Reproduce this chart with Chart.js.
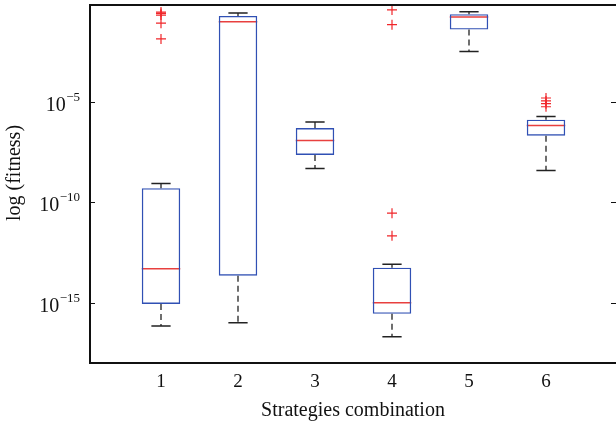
<!DOCTYPE html>
<html lang="en">
<head>
    <meta charset="UTF-8">
    <title>log (fitness) vs strategies combination</title>
    <script src="https://cdn.jsdelivr.net/npm/chart.js"></script>
    <style>
        body { margin: 0; background: #fff; }
    </style>
</head>
<body>
    <canvas id="boxChart" width="616" height="428"></canvas>

    <script>
        // box plot data, one entry per strategies combination
        const groups = [1, 2, 3, 4, 5, 6];
        const whiskerHigh = [8.3e-10, 0.25, 9.5e-7, 8.1e-14, 0.29, 1.8e-6];
        const upperQuartile = [4.9e-10, 0.18, 4.8e-7, 5.5e-14, 0.22, 1.26e-6];
        const medians = [4.8e-14, 0.093, 1.15e-7, 1.0e-15, 0.16, 6.5e-7];
        const lowerQuartile = [8.7e-16, 2.2e-14, 2.2e-8, 2.8e-16, 0.038, 2.0e-7];
        const whiskerLow = [6.9e-17, 1.0e-16, 4.7e-9, 2.0e-17, 0.0031, 3.7e-9];
        const outliers = [
            [0.28, 0.24, 0.20, 0.079, 0.013],
            [],
            [],
            [0.36, 0.066, 2.8e-11, 2.1e-12],
            [],
            [1.5e-5, 1.07e-5, 7.8e-6, 5.5e-6]
        ];
        const yTicks = [1e-15, 1e-10, 1e-5];
        const yTickExponents = ['\u221215', '\u221210', '\u22125'];

        const serif = "'Liberation Serif', 'DejaVu Serif', serif";
        Chart.defaults.font.family = serif;
        Chart.defaults.color = '#111';

        // build line segments (null breaks the line between segments)
        const medianPts = [];
        const capPts = [];
        const whiskerPts = [];
        groups.forEach((g, i) => {
            medianPts.push({x: g - 0.25, y: medians[i]}, {x: g + 0.25, y: medians[i]}, {x: g, y: null});
            capPts.push({x: g - 0.125, y: whiskerHigh[i]}, {x: g + 0.125, y: whiskerHigh[i]}, {x: g, y: null});
            capPts.push({x: g - 0.125, y: whiskerLow[i]}, {x: g + 0.125, y: whiskerLow[i]}, {x: g, y: null});
            whiskerPts.push({x: g, y: upperQuartile[i]}, {x: g, y: whiskerHigh[i]}, {x: g, y: null});
            whiskerPts.push({x: g, y: lowerQuartile[i]}, {x: g, y: whiskerLow[i]}, {x: g, y: null});
        });
        const boxes = groups.map((g, i) => ({x: g, y: [lowerQuartile[i], upperQuartile[i]]}));
        const outlierPts = [];
        groups.forEach((g, i) => outliers[i].forEach(v => outlierPts.push({x: g, y: v})));

        // frame, inward ticks and 10^n labels
        const framePlugin = {
            id: 'frame',
            afterDraw(chart) {
                const ctx = chart.ctx;
                const area = chart.chartArea;
                const y = chart.scales.y;
                ctx.save();
                ctx.strokeStyle = '#111';
                ctx.lineWidth = 2;
                ctx.beginPath();
                ctx.moveTo(area.left - 1, area.top);
                ctx.lineTo(area.right, area.top);
                ctx.stroke();

                ctx.lineWidth = 1;
                yTicks.forEach((v, i) => {
                    const py = Math.round(y.getPixelForValue(v)) + 0.5;
                    ctx.beginPath();
                    ctx.moveTo(area.left, py);
                    ctx.lineTo(area.left + 5, py);
                    ctx.moveTo(area.right - 5, py);
                    ctx.lineTo(area.right, py);
                    ctx.stroke();

                    ctx.fillStyle = '#111';
                    ctx.textBaseline = 'alphabetic';
                    ctx.textAlign = 'left';
                    ctx.font = '13px ' + serif;
                    const expW = ctx.measureText(yTickExponents[i]).width;
                    ctx.font = '20px ' + serif;
                    const baseW = ctx.measureText('10').width;
                    const right = area.left - 10;
                    ctx.fillText('10', right - expW - baseW - 0.5, py + 8);
                    ctx.font = '13px ' + serif;
                    ctx.fillText(yTickExponents[i], right - expW, py - 2);
                });

                ctx.font = '20px ' + serif;
                ctx.textAlign = 'center';
                ctx.textBaseline = 'middle';
                ctx.translate(15, 173);
                ctx.rotate(-Math.PI / 2);
                ctx.fillText('log (fitness)', 0, 0);
                ctx.restore();
            }
        };

        new Chart(document.getElementById('boxChart'), {
            type: 'bar',
            data: {
                datasets: [
                    {
                        type: 'line',
                        data: whiskerPts,
                        borderColor: '#222',
                        borderWidth: 1.3,
                        borderDash: [6, 4],
                        pointRadius: 0,
                        spanGaps: false
                    },
                    {
                        type: 'line',
                        data: capPts,
                        borderColor: '#222',
                        borderWidth: 1.5,
                        pointRadius: 0,
                        spanGaps: false
                    },
                    {
                        type: 'bar',
                        data: boxes,
                        backgroundColor: 'rgba(0,0,0,0)',
                        borderColor: '#3050b4',
                        borderWidth: 1.4,
                        borderSkipped: false,
                        categoryPercentage: 1,
                        barPercentage: 0.5
                    },
                    {
                        type: 'line',
                        data: medianPts,
                        borderColor: '#e8403f',
                        borderWidth: 1.5,
                        pointRadius: 0,
                        spanGaps: false
                    },
                    {
                        type: 'scatter',
                        data: outlierPts,
                        pointStyle: 'cross',
                        pointRadius: 5,
                        borderColor: '#f0262a',
                        borderWidth: 1.2,
                        showLine: false
                    }
                ]
            },
            options: {
                responsive: false,
                animation: false,
                devicePixelRatio: 1,
                layout: { autoPadding: false, padding: { top: 5, right: 0, left: 0, bottom: 0 } },
                plugins: {
                    legend: { display: false },
                    tooltip: { enabled: false }
                },
                scales: {
                    x: {
                        type: 'linear',
                        offset: false,
                        min: 1 - 71 / 77,
                        max: 6 + 70 / 77,
                        afterBuildTicks: (scale) => { scale.ticks = groups.map(v => ({value: v})); },
                        afterFit: (scale) => { scale.height = 65; scale.paddingRight = 0; scale.paddingLeft = 0; },
                        grid: { display: false },
                        border: { display: true, color: '#111', width: 2 },
                        ticks: {
                            font: { size: 19 },
                            padding: 0,
                            maxRotation: 0,
                            callback: (v) => String(v)
                        },
                        title: {
                            display: true,
                            text: 'Strategies combination',
                            font: { size: 20 },
                            padding: { top: 0, bottom: 5 }
                        }
                    },
                    y: {
                        type: 'logarithmic',
                        min: 1e-18,
                        max: Math.pow(10, -0.2),
                        afterBuildTicks: (scale) => { scale.ticks = yTicks.map(v => ({value: v})); },
                        afterFit: (scale) => { scale.width = 90; },
                        grid: { display: false },
                        border: { display: true, color: '#111', width: 2 },
                        ticks: { display: false }
                    }
                }
            },
            plugins: [framePlugin]
        });
    </script>
</body>
</html>
